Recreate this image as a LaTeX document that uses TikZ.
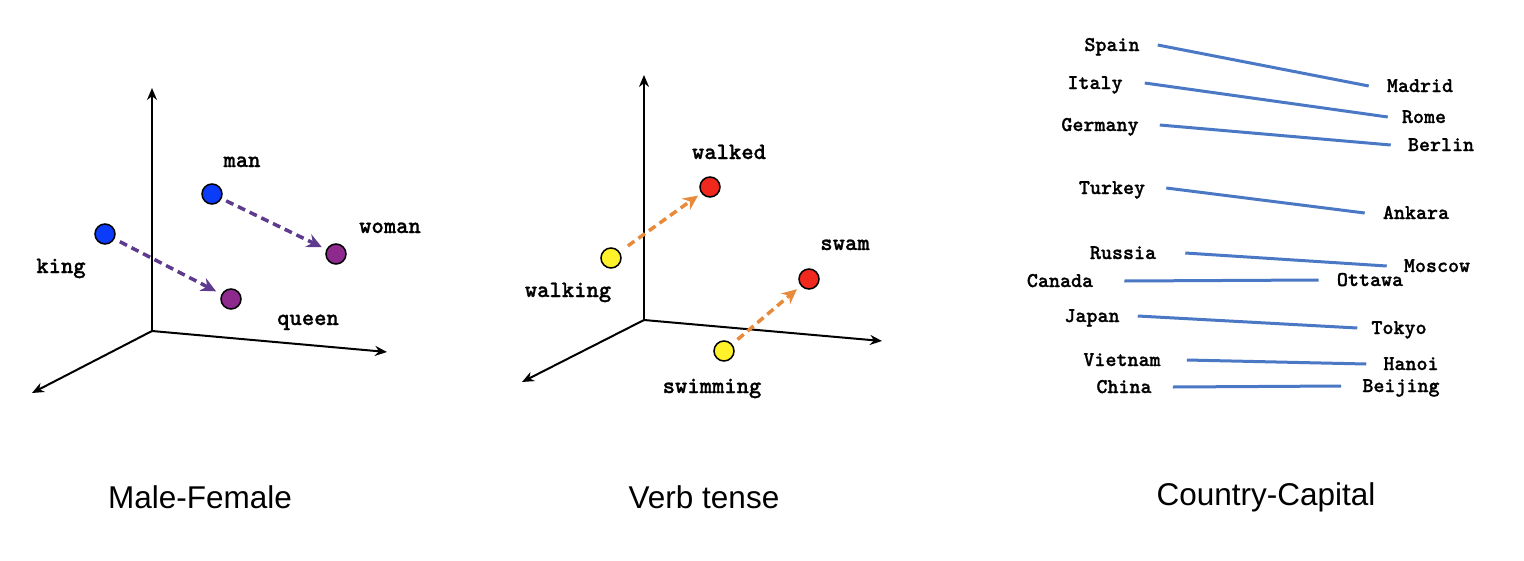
\documentclass[tikz,border=0pt]{standalone}
\usepackage{fontspec}
\newfontfamily\wordfont{lmmonolt10-bold.otf}[FakeBold=1]
\newfontfamily\titlefont{Liberation Sans}
\usepackage{tikz}
\usetikzlibrary{arrows.meta}
\usepackage{xcolor}

\definecolor{dotblue}{RGB}{10,60,250}
\definecolor{dotpurple}{RGB}{142,42,142}
\definecolor{arrpurple}{RGB}{94,59,142}
\definecolor{dotyellow}{RGB}{255,242,42}
\definecolor{dotred}{RGB}{240,40,30}
\definecolor{arrorange}{RGB}{232,138,60}
\definecolor{lineblue}{RGB}{74,120,196}

\tikzset{
  word/.style={circle,draw=black,line width=1.5pt,minimum size=20pt,inner sep=0pt},
  wlabel/.style={anchor=base,font=\wordfont\fontsize{23.5}{26}\selectfont},
  clabel/.style={anchor=base,inner xsep=0pt,text height=14pt,text depth=2pt,
                 font=\wordfont\fontsize{21}{24}\selectfont},
  title/.style={anchor=base,font=\titlefont\fontsize{31.5}{36}\selectfont},
  axis/.style={line width=2pt,-{Stealth[length=12pt,width=10pt]}},
  offset/.style={line width=3.5pt,dash pattern=on 8pt off 5pt,
                 -{Stealth[length=15pt,width=14pt,inset=5pt]}},
  capline/.style={lineblue,line width=3pt}
}

\begin{document}
\begin{tikzpicture}[x=1pt,y=-1pt]
    \useasboundingbox (0,0) rectangle (1524,560);

    % Male-Female
    \coordinate (o1) at (152,331);
    \coordinate (up1) at (152,88);
    \coordinate (right1) at (387,352);
    \coordinate (left1) at (32,393);
    \draw[axis] (o1) -- (up1);
    \draw[axis] (o1) -- (right1);
    \draw[axis] (o1) -- (left1);

    \node[word,fill=dotblue] (king) at (105,234) {};
    \node[word,fill=dotblue] (man) at (212,194) {};
    \node[word,fill=dotpurple] (queen) at (231,299) {};
    \node[word,fill=dotpurple] (woman) at (336,254) {};
    \node[wlabel] (kingtxt) at (61,273) {king};
    \node[wlabel] (mantxt) at (242,167) {man};
    \node[wlabel] (queentxt) at (308,325) {queen};
    \node[wlabel] (womantxt) at (390,233) {woman};

    \draw[offset,arrpurple,shorten <=6pt,shorten >=6pt] (king) -- (queen);
    \draw[offset,arrpurple,shorten <=5pt,shorten >=5pt] (man) -- (woman);

    % Verb tense
    \coordinate (o2) at (644,320);
    \coordinate (up2) at (644,75);
    \coordinate (right2) at (882,341);
    \coordinate (left2) at (522,382);
    \draw[axis] (o2) -- (up2);
    \draw[axis] (o2) -- (right2);
    \draw[axis] (o2) -- (left2);

    \node[word,fill=dotyellow] (walking) at (611,258) {};
    \node[word,fill=dotred] (walked) at (710,187) {};
    \node[word,fill=dotyellow] (swimming) at (724,351) {};
    \node[word,fill=dotred] (swam) at (809,279) {};
    \node[wlabel] (walkingtxt) at (568,297) {walking};
    \node[wlabel] (walkedtxt) at (729,159) {walked};
    \node[wlabel] (swimmingtxt) at (712,393) {swimming};
    \node[wlabel] (swamtxt) at (845,250) {swam};

    \draw[offset,arrorange,shorten <=10pt,shorten >=4pt] (walking) -- (walked);
    \draw[offset,arrorange,shorten <=7pt,shorten >=5pt] (swimming) -- (swam);

    % Country-Capital
    \node[clabel] (spain) at (1112,51) {Spain};
    \node[clabel] (italy) at (1095,89) {Italy};
    \node[clabel] (germany) at (1100,131) {Germany};
    \node[clabel] (turkey) at (1112,194) {Turkey};
    \node[clabel] (russia) at (1123,259) {Russia};
    \node[clabel] (canada) at (1060,287) {Canada};
    \node[clabel] (japan) at (1092,322) {Japan};
    \node[clabel] (vietnam) at (1122,366) {Vietnam};
    \node[clabel] (china) at (1124,393) {China};

    \node[clabel] (madrid) at (1420,92) {Madrid};
    \node[clabel] (rome) at (1424,123) {Rome};
    \node[clabel] (berlin) at (1441,151) {Berlin};
    \node[clabel] (ankara) at (1416,219) {Ankara};
    \node[clabel] (moscow) at (1437,272) {Moscow};
    \node[clabel] (ottawa) at (1370,286) {Ottawa};
    \node[clabel] (tokyo) at (1399,334) {Tokyo};
    \node[clabel] (hanoi) at (1411,370) {Hanoi};
    \node[clabel] (beijing) at (1401,392) {Beijing};

    \draw[capline] ([xshift=18pt]spain.east) -- ([xshift=-18pt]madrid.west);
    \draw[capline] ([xshift=22pt]italy.east) -- ([xshift=-14pt]rome.west);
    \draw[capline] ([xshift=21pt]germany.east) -- ([xshift=-17pt]berlin.west);
    \draw[capline] ([xshift=21pt]turkey.east) -- ([xshift=-18pt]ankara.west);
    \draw[capline] ([xshift=29pt]russia.east) -- ([xshift=-17pt]moscow.west);
    \draw[capline] ([xshift=31pt]canada.east) -- ([xshift=-18pt]ottawa.west);
    \draw[capline] ([xshift=18pt]japan.east) -- ([xshift=-14pt]tokyo.west);
    \draw[capline] ([xshift=26pt]vietnam.east) -- ([xshift=-17pt]hanoi.west);
    \draw[capline] ([xshift=21pt]china.east) -- ([xshift=-21pt]beijing.west);

    % titles
    \node[title] (mftitle) at (200,508) {Male-Female};
    \node[title] (vttitle) at (704,508) {Verb tense};
    \node[title] (cctitle) at (1266,505) {Country-Capital};
\end{tikzpicture}
\end{document}
